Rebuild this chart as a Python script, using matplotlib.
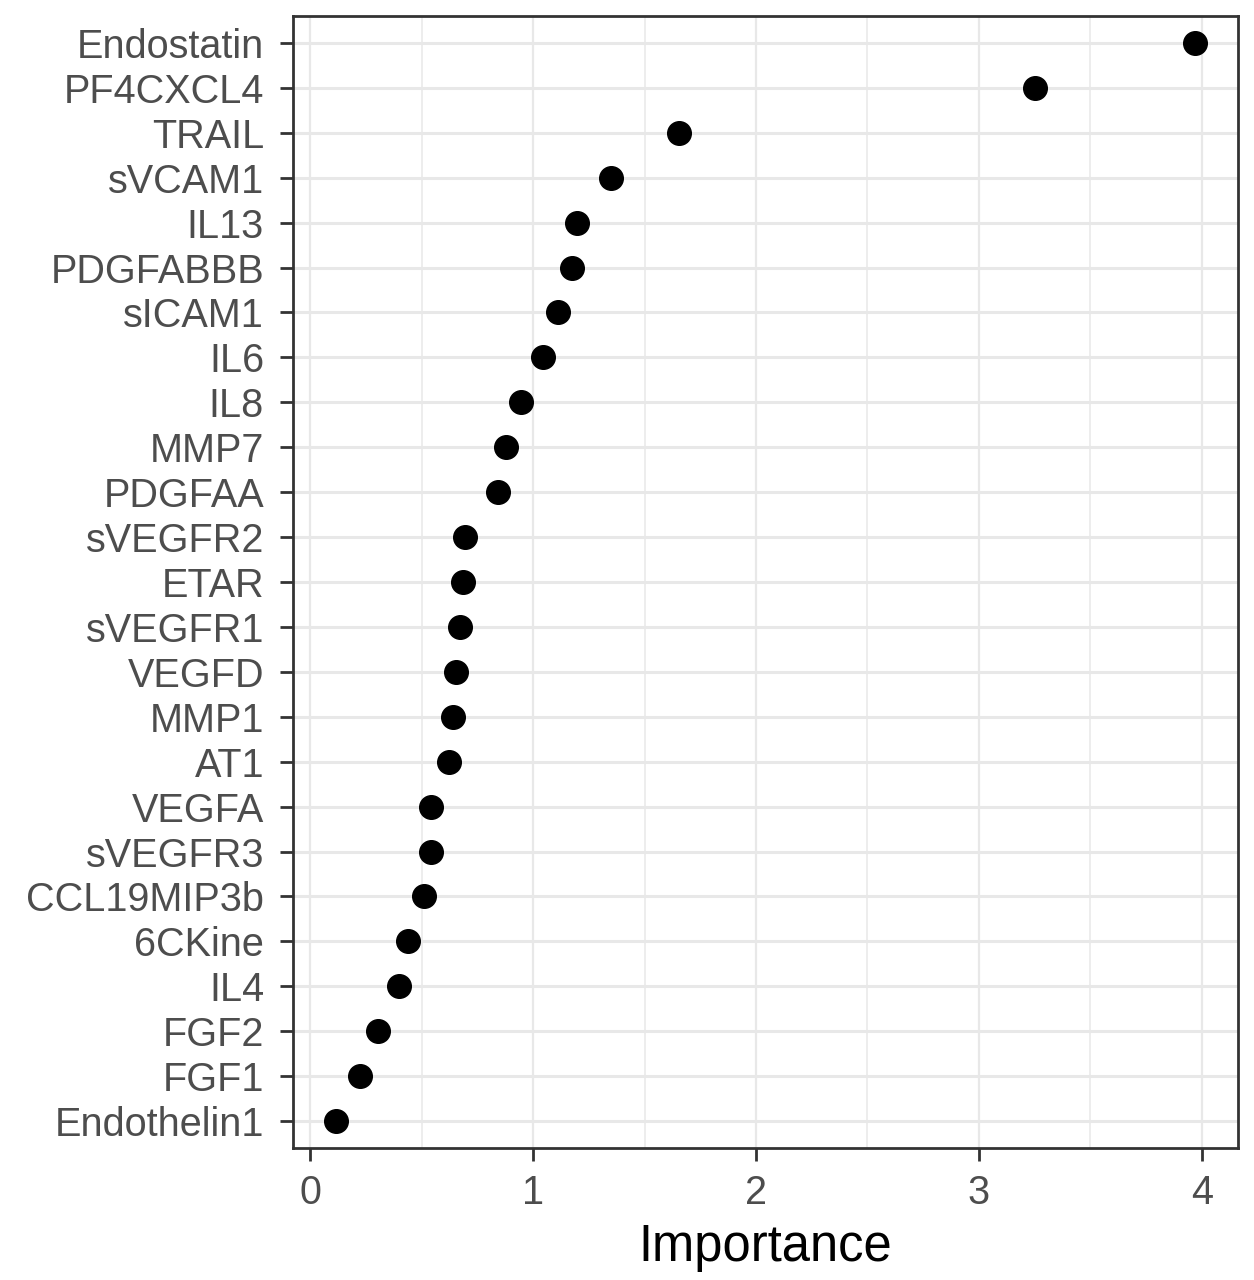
import numpy as np
import matplotlib
matplotlib.use("Agg")
import matplotlib.pyplot as plt
from matplotlib.ticker import MultipleLocator

plt.rcParams['font.family'] = ['Liberation Sans', 'DejaVu Sans']

# top-to-bottom order as in the figure
features = ["Endostatin", "PF4CXCL4", "TRAIL", "sVCAM1", "IL13", "PDGFABBB",
            "sICAM1", "IL6", "IL8", "MMP7", "PDGFAA", "sVEGFR2", "ETAR",
            "sVEGFR1", "VEGFD", "MMP1", "AT1", "VEGFA", "sVEGFR3",
            "CCL19MIP3b", "6CKine", "IL4", "FGF2", "FGF1", "Endothelin1"]
importance = [3.97, 3.25, 1.655, 1.35, 1.198, 1.175,
              1.111, 1.046, 0.944, 0.877, 0.844, 0.692, 0.686,
              0.670, 0.655, 0.640, 0.622, 0.543, 0.543,
              0.509, 0.437, 0.400, 0.304, 0.225, 0.113]
x_ticks = [0, 1, 2, 3, 4]

grid_col = "#E8E8E8"
dark = "#333333"

fig = plt.figure(figsize=(12.54, 12.8), dpi=100)
ax = fig.add_axes([0.2333, 0.1031, 0.754, 0.8844])

n = len(features)
ypos = np.arange(n)[::-1]  # first feature at top

# ggplot-like expansion
lo, hi = min(importance), max(importance)
pad = 0.05 * (hi - lo)
ax.set_xlim(lo - pad, hi + pad)
ax.set_ylim(-0.6, n - 1 + 0.6)

ax.set_xticks(x_ticks)
ax.xaxis.set_minor_locator(MultipleLocator(0.5))
ax.set_yticks(ypos)
ax.set_yticklabels(features)

ax.grid(True, which="major", axis="y", color=grid_col, linewidth=2.2, zorder=0)
ax.grid(True, which="major", axis="x", color=grid_col, linewidth=1.6, zorder=0)
ax.grid(True, which="minor", axis="x", color=grid_col, linewidth=1.1, zorder=0)
ax.set_axisbelow(True)

ax.plot(importance, ypos, "o", color="black", markersize=17, linestyle="none", zorder=3)

for s in ax.spines.values():
    s.set_color(dark)
    s.set_linewidth(2.0)

ax.tick_params(axis="both", which="major", length=9.5, width=2.0, color=dark,
               labelsize=28.5, labelcolor="#4D4D4D")
ax.tick_params(axis="y", which="major", pad=11)
ax.tick_params(axis="x", which="major", pad=9)
ax.tick_params(axis="x", which="minor", length=0)

ax.set_xlabel("Importance", fontsize=36.5, color="black", labelpad=8)

fig.savefig("out.png", dpi=100)
